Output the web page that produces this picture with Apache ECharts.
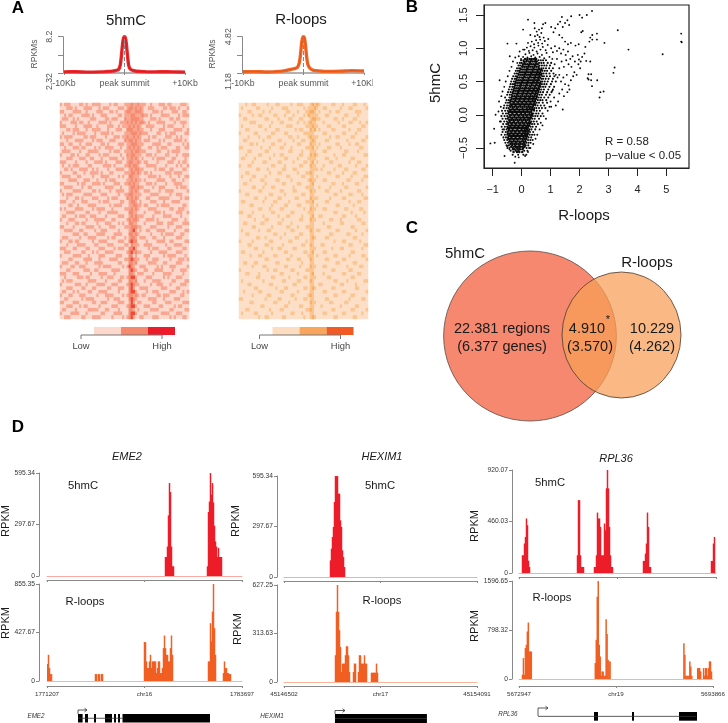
<!DOCTYPE html>
<html><head><meta charset="utf-8">
<style>html,body{margin:0;padding:0;background:#fff}#c{width:728px;height:723px}</style>
<script src="https://cdn.jsdelivr.net/npm/echarts@6/dist/echarts.min.js"></script>
</head><body><div id="c"></div>
<script>
// ---------- Panel A: average profiles
const profileX = [-10,-8,-6,-4,-3,-2,-1.5,-1,-.7,-.5,-.3,-.15,0,.15,.3,.5,.7,1,1.5,2,3,4,6,8,10];
const profileHmc = [2.5,2.52,2.46,2.5,2.55,2.62,2.72,2.88,3.6,5.2,7.2,8.0,8.2,8.0,7.1,5.1,3.5,2.9,2.7,2.6,2.55,2.5,2.52,2.5,2.46];
const profileRloop = [1.3,1.32,1.28,1.34,1.42,1.55,1.62,1.75,2.2,3.0,4.2,4.7,4.82,4.7,4.1,2.9,2.1,1.7,1.48,1.42,1.36,1.34,1.36,1.42,1.38];
const hmcYTicks = [2.32,5.26,8.2];
const rloopYTicks = [1.18,3.0,4.82];
const profileTickLabels = ['-10Kb','peak summit','+10Kb'];
// ---------- Panel A: heat maps (0 low .. 3 high)
const heatHmc = [
"101110000110100111100001011000111211211100100011101100001110",
"000111010001111000101110000111012212121001110000110111010001",
"110000111100100001110001101000122112221000011101000011100110",
"001011000011110100011100000110111221112110100001111000010111",
"011100101000001110000110111000211222211000111010000110110000",
"100001110110010000111101000011121212122101000111100001001110",
"111000010001111001000011100101112121210011110000101110000100",
"000110111000100111100010001110022211211000100011100001111001",
"010000101111000010011110100000111222121110000110010111000011",
"101111000001101110000100011101121121210001011000011100101000",
"000100011110000101110001110000212212110111000010100001111010",
"110011000100111000011010000111011222111000011110001100000101",
"001000111011000010100111100010012121210001100101110000110011",
"011110000100011111000001011100111212211100000110001011110000",
"100001101000110000101110000010021221110011101000011000100111",
"000111000111001100010001111001011212101000010111100011000010",
"111000010000100011110100001110012211210110000100001110010110",
"010010111000011000001111010000112122100011111000010000101001",
"001101000111100101000010001111001212211000001011100110000110",
"100000110001001111010001100000111221210110100000011101111000",
"011110001100000100011110000101002211100001111010000100010011",
"000011110001110001000101110000011212110100000111100011000100",
"110000001011000111101000011100112121100011101000010001111000",
"001111000010011000000111100010001221211000010011100000101110",
"100000111100000110100001001111001212100111000010011110000001",
"010111000001111000011100000100112211110000111100000100111000",
"000100011010000111000010111000021212100011000011111000001011",
"111000100011100000101110000011001221010000111000100011110000",
"000011001000011110000001011110001122110110000101111000000110",
"101000011110000101111000100000111212100001111000000110011100",
"000111100000110000100011111000002211000100001110100000111001",
"011000010111001110000100000111001212111000010000111100001000",
"100011100000100011111000110000012122100011110100000011100010",
"000100011011000001000111000101002211000100000111001110000111",
"110000100000111100100001110000111222110000111000001000111000",
"001111000110000010011100000100001231010011000111100001000011",
"000000111001100001111000011110002212100000100001011110001100",
"011100000100011110000010110000101221011100011000100000111000",
"100011011000000100111100000111002322000010000111100110000011",
"000100001111000011000011100000110211100111100000010001111000",
"111000110000110000111000010111002231000001011100001100000110",
"001110000011000101000111100000012312110000100011110000111000",
"100000111100010000111000001110002201000111000000101111000010",
"000011000001111000100001111000112321100010011100000100011101",
"011100011000100011110000000110002212000001111000110000111000",
"100001100111000000101111000001013210011100000101000111000001",
"000110000001110011000000111100002321000110001111000010001110",
"111000111000001000111100010000002210111000010000111100000100",
"001000001110110000010011100011012331000011100000101000111000",
"010111000000011110000100000110002212000100011110000011000011",
"100000011100100001111000111000012321100000100111000100001110",
"000111000011000110000011000111002310011110000001110000110000",
"011000101000011000111100000100002331000010011100000111000101",
"100011000111000001000111100001012212101100000110111000001100",
"001100000010111100000010011100002321000001111000100001110000",
"110000111000000110011100000111001310110000011000011100000111",
"000111000101100000100000111000012331000111000011000001011000",
"011000010000011111000110000100002210100000111100000110000011",
"100001111000100000011000011110002331000110000001111000111000",
"001110000011000111100000100001012310011000011100000101000110"];
const heatRloop = [
"000100110000010001100000100111000121210000011000100001100010",
"010000001100000100001110000000101112100110000001000110000001",
"000011000001001000000011000100011221010000100110000000111000",
"100000100110000011000100010000102111100011000000011000010000",
"001100000000110000100001100011000122110000001100100001100000",
"000001110000000100011000000100101211000100000010000110001001",
"010000000110001000000011100000011121100001100000110000000110",
"000110000000100001100000001011000212010000011000000100011000",
"100000011000000110000110000000111110000110000000110000100000",
"000010000100011000000001100100001211100000100110000011000001",
"001100000001000000110000010001100121000011000000001000000110",
"000001101000000110000100000110000211010000000110000100110000",
"110000000010001000011000100000011120100001100001000000001100",
"000011000000110000000001100001000111000110000000011000010000",
"000100000110000010011000000011000212100000001000110000000011",
"011000010000001000000110000100001111000011000100000011000000",
"000000100001100000110000010000110120100000110000000100011000",
"100011000000000110000100000011000211000100000011000000100001",
"000000001100010000001100011000000111101000001000011000000110",
"000110000000001000110000000100011210000001100000100001100000",
"010000110000100000000011000001100110100000000110000010000011",
"000001000011000001100000100000001211000110000000001100000100",
"001100000000100000001100000110000120000000011000100000110000",
"000000110001000110000000010000011110010000100000011000000001",
"100000000110000000011000011000000211000011000001000000011000",
"000110000000001100000100000001100110000000001100000110000100",
"000000011000100000110000001100000211100000100000110000000011",
"011000000001000011000001000000011120000011000000000100011000",
"000001100000000100000110000110000110100000000110000001000000",
"000000000110001000011000000000100211000110000000011000001100",
"110000100000000110000000110000001110000000001100000010000010",
"000011000001000000100011000001000120011000000000110000100000",
"000000010000110000001000000011000211000000110001000000011000",
"001100000011000000110000100000000110000100000001100000000110",
"000000110000000100000011000100011110000001100000000011000000",
"010000000100011000000000110000000210110000000110000000100001",
"000110000000000011000100000011000110000000110000001100000100",
"000000001100100000010000001100000121000011000000000001100000",
"100000100000001100000001100000010110000000001000110000001000",
"000011000000110000001000000001100210001100000000000110000011",
"000000011000000100110000011000000111000000010001100000000100",
"011000000001000000000110000000110120000110000000000011000000",
"000001000110000011000000100000001110100000001100000100000110",
"000000000000110000000011000110000210000011000000110000000001",
"001100011000000001100000000001000110000000000110000001100000",
"000000100001100000000110000010000211000110000000001000001100",
"100000000000010011000000110000011110000000011000000110000000",
"000110000100000000011000000100000120000100000000110000011000",
"000000001100000110000001000000110111000001100000000011000000",
"010000000001000000001100000110000210000000001100001000000011",
"000011000000001100000000011000000110011000000001100000100000",
"000000011000000001000110000000110121000000011000000000110000",
"001000000110000000011000000100000110000110000000110000000001",
"000000100000011000000000110000001210000000001100000011000000",
"110000000000100000110000001000110110000011000000000100000110",
"000001100000000011000001000000000211000000110000011000000000",
"000000000011000000000110000011000110001000000001000000110000",
"000110000000001000011000000000011210000000011000000011000001",
"010000011000000100000000110001000110000110000000110000000100",
"000000000100110000001100000000100121000000001100000001100000"];
const heatLevels = [0,1,2,3];
// ---------- Panel B: scatter, rows of the dense cloud: [5hmC, [R-loops ...]]
const scatterCoreRows = [
[-.56,[-.28,-.16,-.08,.02]],
[-.52,[-.3,-.24,-.14,-.06,.03]],
[-.48,[-.36,-.27,-.2,-.13,-.05,.02,.1]],
[-.44,[-.39,-.32,-.25,-.18,-.11,-.04,.03,.1]],
[-.4,[-.42,-.36,-.29,-.22,-.15,-.08,-.01,.06,.13]],
[-.36,[-.46,-.4,-.33,-.26,-.19,-.12,-.05,.02,.09,.16]],
[-.32,[-.44,-.37,-.3,-.23,-.16,-.09,-.02,.05,.12,.19]],
[-.28,[-.47,-.4,-.33,-.26,-.19,-.12,-.05,.02,.09,.15,.22]],
[-.24,[-.45,-.38,-.31,-.24,-.17,-.1,-.03,.04,.11,.17,.24]],
[-.2,[-.47,-.41,-.34,-.27,-.2,-.13,-.06,.01,.08,.15,.21]],
[-.16,[-.44,-.37,-.3,-.23,-.16,-.09,-.02,.05,.12,.19,.26]],
[-.12,[-.46,-.39,-.32,-.25,-.18,-.11,-.04,.03,.1,.17,.24,.3]],
[-.08,[-.43,-.36,-.29,-.22,-.15,-.08,-.01,.06,.13,.2,.27]],
[-.04,[-.45,-.38,-.31,-.24,-.17,-.1,-.03,.04,.11,.18,.25,.32]],
[0,[-.42,-.35,-.28,-.21,-.14,-.07,0,.07,.14,.21,.28,.35]],
[.04,[-.44,-.37,-.3,-.23,-.16,-.09,-.02,.05,.12,.19,.26,.33]],
[.08,[-.41,-.34,-.27,-.2,-.13,-.06,.01,.08,.15,.22,.29,.36,.42]],
[.12,[-.39,-.32,-.25,-.18,-.11,-.04,.03,.1,.17,.24,.31,.38]],
[.16,[-.37,-.3,-.23,-.16,-.09,-.02,.05,.12,.19,.26,.33,.4,.46]],
[.2,[-.38,-.31,-.24,-.17,-.1,-.03,.04,.11,.18,.25,.32,.39,.46]],
[.24,[-.34,-.27,-.2,-.13,-.06,.01,.08,.15,.22,.29,.36,.43,.5]],
[.28,[-.32,-.25,-.18,-.11,-.04,.03,.1,.17,.24,.31,.38,.45,.52]],
[.32,[-.3,-.23,-.16,-.09,-.02,.05,.12,.19,.26,.33,.4,.47,.54]],
[.36,[-.27,-.2,-.13,-.06,.01,.08,.15,.22,.29,.36,.43,.5,.57]],
[.4,[-.25,-.18,-.11,-.04,.03,.1,.17,.24,.31,.38,.45,.52,.59]],
[.44,[-.22,-.15,-.08,-.01,.06,.13,.2,.27,.34,.41,.48,.55,.62]],
[.48,[-.2,-.13,-.06,.01,.08,.15,.22,.29,.36,.43,.5,.57,.64]],
[.52,[-.17,-.1,-.03,.04,.11,.18,.25,.32,.39,.46,.53,.6]],
[.56,[-.14,-.07,0,.07,.14,.21,.28,.35,.42,.49,.56,.63]],
[.6,[-.1,-.03,.04,.11,.18,.25,.32,.39,.46,.53,.6,.67]],
[.64,[-.06,.01,.08,.15,.22,.29,.36,.43,.5,.57,.64]],
[.68,[-.03,.04,.11,.18,.25,.32,.39,.46,.53,.6,.68]],
[.72,[.02,.09,.16,.23,.3,.37,.44,.51,.58]],
[.76,[.05,.13,.2,.27,.34,.41,.48,.55]],
[.8,[.08,.16,.24,.31,.38,.45,.52]],
[.84,[.12,.2,.28,.35,.43,.5]]];
const scatterMidRows = [
[-.6,[-.31,-.12,.06,.16]],
[-.54,[-.38,-.2,-.11,.09,.2]],
[-.5,[-.49,-.42,-.31,-.17,-.09,.06,.17,.26]],
[-.46,[-.52,-.44,-.33,-.22,-.08,.07,.14,.23]],
[-.42,[-.56,-.47,-.34,-.2,-.06,.08,.17,.24,.31]],
[-.38,[-.6,-.5,-.42,-.27,-.14,.04,.13,.22,.3,.38]],
[-.34,[-.63,-.54,-.47,-.35,-.21,-.07,.07,.16,.24,.33]],
[-.3,[-.58,-.5,-.42,-.28,-.14,.01,.12,.19,.28,.36,.44]],
[-.26,[-.66,-.55,-.49,-.36,-.22,-.08,.06,.13,.21,.29,.4]],
[-.22,[-.61,-.52,-.44,-.31,-.15,0,.11,.19,.27,.34,.47]],
[-.18,[-.69,-.58,-.5,-.39,-.24,-.11,.04,.16,.23,.31,.38,.5]],
[-.14,[-.64,-.53,-.47,-.34,-.2,-.06,.08,.21,.28,.36,.44,.56]],
[-.1,[-.72,-.6,-.51,-.41,-.27,-.12,.02,.15,.27,.34,.42,.52]],
[-.06,[-.66,-.55,-.49,-.33,-.18,-.04,.09,.23,.3,.37,.45,.6]],
[-.02,[-.7,-.59,-.5,-.4,-.25,-.1,.05,.18,.32,.39,.47,.55,.66]],
[.02,[-.65,-.54,-.47,-.32,-.17,-.02,.12,.27,.36,.41,.5,.58,.72]],
[.06,[-.68,-.57,-.48,-.39,-.24,-.08,.06,.2,.34,.43,.52,.63]],
[.1,[-.62,-.52,-.45,-.3,-.16,.03,.18,.28,.36,.44,.51,.6,.7,.82]],
[.14,[-.6,-.5,-.43,-.35,-.21,-.05,.1,.24,.4,.47,.55,.66,.78]],
[.18,[-.55,-.47,-.41,-.27,-.12,.02,.16,.3,.44,.52,.6,.73,.88]],
[.22,[-.52,-.44,-.38,-.22,-.07,.09,.24,.38,.47,.56,.64,.72,.85]],
[.26,[-.57,-.42,-.36,-.19,-.04,.12,.27,.41,.52,.59,.67,.78,.92]],
[.3,[-.5,-.41,-.35,-.15,.02,.17,.31,.46,.55,.62,.7,.84,.97]],
[.34,[-.47,-.38,-.31,-.12,.06,.21,.37,.49,.58,.65,.74,.88,1.03]],
[.38,[-.44,-.35,-.29,-.08,.1,.27,.42,.55,.62,.68,.77,.92,1.08]],
[.42,[-.41,-.32,-.26,-.05,.14,.3,.46,.6,.66,.74,.82,.96,1.12]],
[.46,[-.38,-.3,-.24,-.02,.18,.35,.51,.63,.7,.78,.86,1.01]],
[.5,[-.36,-.27,-.22,.02,.21,.41,.54,.67,.72,.8,.9,1.05,1.18]],
[.54,[-.33,-.24,-.19,.05,.24,.44,.58,.68,.74,.83,.93,1.08]],
[.58,[-.29,-.21,-.16,.09,.29,.47,.61,.71,.77,.87,.98,1.13]],
[.62,[-.24,-.17,-.12,.12,.33,.52,.62,.7,.76,.85,.96,1.1]],
[.66,[-.2,-.13,-.08,.17,.38,.55,.66,.72,.8,.88,1.02]],
[.7,[-.16,-.09,-.04,.2,.41,.6,.68,.75,.84,.95,1.08]],
[.74,[-.11,-.05,.03,.25,.46,.62,.7,.78,.86,.98]],
[.78,[-.06,0,.1,.29,.5,.6,.68,.76,.9,1.02]],
[.82,[-.02,.06,.18,.33,.48,.58,.66,.74,.84]]];
const scatterSparse = [
[.05,.87],[.13,.91],[.2,.86],[.27,.93],[.33,.88],[.41,.9],[.47,.86],[.55,.92],[.62,.87],[.7,.9],[.78,.85],[.86,.93],[.96,.87],[.1,.98],[.18,1.01],[.25,.96],[.31,1.03],[.38,.97],[.44,1.01],[.52,.95],[.58,1.04],[.65,.98],[.73,1.02],[.83,.97],[.22,1.08],[.35,1.1],[.43,1.06],[.5,1.12],[.57,1.08],[.64,1.13],[.71,1.07],[.8,1.11],[.9,1.05],[.46,1.18],[.55,1.2],[.62,1.17],[.68,1.23],[.76,1.16],[.6,1.28],[.7,1.3],[.52,1.25],[.3,1.2],
[.22,1.43],[.05,1.28],[.44,1.38],[.45,1.3],[.82,1.38],[1.02,1.32],[1.39,1.47],[1.71,1.48],[2,1.5],[2.25,1.5],[2.43,1.56],[2.09,1.46],[3.32,1.27],[2.11,1.26],[2.06,1.24],[2.6,1.22],[2.44,1.2],[2.37,1.16],[2.44,1.13],[2.6,1.13],[2.34,1.1],[2.86,1.08],[5.51,1.22],[5.51,1.1],[5.53,1.09],[4.87,.91],[3.69,.98],[3.21,.71],[3.17,.63],[2.83,.35],[2.72,.34],[2.69,.26],[2.61,.52],[2.43,.43],[2.4,.52],[2.31,.53],[2.28,.55],[2.4,.61],[2.31,.61],[2.37,.8],[2.23,.81],[2.17,.92],[2.09,.87],[1.94,.9],[1.98,.83],[2.04,.8],
[-1.08,-.43],[-.93,-.42],[-.95,-.21],[-.9,0],[-.49,1.07],[-.18,1.07],[-.41,.88],[-.07,.95],[-.76,.52],[-.24,-.72],[-.59,-.62],[-.42,-.52],[-.5,-.47],[-.7,-.3],[-.66,-.22],[-.75,-.1],[-.8,.05],[-.72,.12],[-.78,.2],[-.7,.28],[-.66,.35],[-.6,.42],[-.55,.5],[-.48,.58],[-.42,.66],[-.35,.72],[-.3,.8],[-.22,.86],[-.15,.78],[-.1,.88],[-.02,.84],[.05,.98],
[.92,1.14],[.74,1.36],[1.1,1.24],[1.16,1.3],[1.25,1.36],[1.33,1.4],[1.42,1.32],[1.5,1.38],[1.58,1.42],[1.64,1.35],[1.3,1.2],[1.4,1.16],[1.5,1.1],[1.6,1.06],[1.7,1.08],[1.86,1.04],[1.97,1.06],[2.2,1.02],
[1.02,1],[1.08,.94],[1.15,1.03],[1.22,.96],[1.3,1],[1.36,.92],[1.44,.98],[1.52,.9],[1.6,.95],[1.68,.84],[1.76,.88],[1.84,.8],[1.72,.72],[1.62,.76],[1.54,.82],[1.46,.72],[1.38,.8],[1.3,.7],[1.22,.84],[1.14,.76],[1.06,.84],[1.18,.6],[1.24,.56],[1.3,.6],[1.36,.5],[1.44,.56],[1.5,.46],[1.56,.6],[1.62,.44],[1.7,.52],[1.78,.58],[1.9,.6],[1.82,.64],[2.02,.7],[1.96,.76],[1.58,.34],[1.65,.38],[1.46,.28],[1.4,.38],[1.3,.32],[1.42,.08],[1.26,.2],[1.18,.14],[1.12,.26],[1.06,.36],[1,.2],[.96,.12],[1.02,.12],[.9,.06],[.84,-.06],[.76,-.02],[.72,-.16],[.62,-.22],[.66,-.12],[.54,-.3],[.48,-.36],[.4,-.44],[.3,-.5],[.22,-.56],[.12,-.62],[-.1,-.64],[-.22,-.63]];
// ---------- Panel C: Venn regions
const vennLabels = ['22.381 regions','(6.377 genes)','4.910','(3.570)','10.229','(4.262)'];
const vennCentres = [[90,91],[181.5,92]];
// ---------- Panel D: coverage peaks, [first bin, [RPKM per bin ...]]
const eme2Hmc = [[118,[110,110,170,350,537,485,170,56,56]],[160,[56,370,430,595,470,537,425,290,200,170,110,163,110,110,110]]];
const eme2Rloop = [[0,[150,231,114,61,61]],[48,[61,61]],[51,[61,61]],[54,[61,61]],[97,[343,343,173,114,114,173,231,115,173,173,173,173,70,114,173,173,70,70,114,290,401,290,231,231,173,173,290,401,231]],[161,[173,173,510,350,612,855,466,231]],[176,[70,173,114,114,70,70,61,61]]];
const hexim1Hmc = [[46,[98,167,236,295,442,595,595,595,491,491,334,295,157,118,59]]];
const hexim1Rloop = [[51,[173,454,627,454,335,227,65,119,119,119,173,231,231,173,65]],[69,[65,119,119]],[74,[65,173,173,119,119,119,173,119,119]],[87,[60,60,60,60,60,119,60]]];
const rpl36Hmc = [[3,[158,158,263,322,487,427,110,54]],[58,[158,651,651,158,54,54,54]],[75,[54,54,158,540,487,487,412,158,158,158,442,382,756,920,756,412,158,54,54]],[124,[108,108,173,263,540,412,54,54]],[192,[108,108,263,322]]];
const rpl36Rloop = [[3,[70,341,70,503,557,773,920,449,449,449]],[77,[260,638,1341,1596,557,368,54,124,124,54,54,973,735,314,287,287]],[167,[584,395,54,54,54,54,287,205,54]],[181,[178,178,178,124]],[187,[178,54,178,178,54,178,287,287,124]]];
const eme2Ticks = [1771207,1777452,1783697];
const hexim1Ticks = [45146502,45150296,45154091];
const rpl36Ticks = [5672947,5683406,5693866];
// Gene models: exons [start, end], transcript [start, end]
const eme2Exons = [[1773193,1773487],[1773641,1773833],[1774217,1774345],[1774922,1775370],[1775498,1775626],[1775754,1775882],[1776043,1781647]];
const hexim1Exons = [[45148506,45152122]];
const rpl36Exons = [[5680912,5681337],[5684948,5685160],[5689939,5691851]];
const eme2Transcript = [1773193,1776043];
const hexim1Transcript = [45148506,45152122];
const rpl36Transcript = [5674965,5691744];

// ---------- build
const F = '"Liberation Sans", Arial, sans-serif';
const grid=[],xAxis=[],yAxis=[],series=[],graphic=[];
const off={show:false};
function T(x,y,text,size,o){o=o||{};graphic.push({type:'text',x,y,rotation:o.rot||0,z:50,style:{text,fill:o.color||'#1a1a1a',font:(o.italic?'italic ':'')+(o.bold?'bold ':'')+size+'px '+F,textAlign:o.align||'center',textVerticalAlign:'middle'}});}
function addGrid(l,t,w,h,extra){grid.push(Object.assign({left:l,top:t,width:w,height:h,containLabel:false},extra||{}));return grid.length-1;}

function profile(l,yTicks,vals,color,dark){
  const g=addGrid(l,36.7,121,36.3);
  xAxis.push({gridIndex:g,type:'value',min:-10,max:10,splitLine:off,
    axisLine:{onZero:false,lineStyle:{color:'#999',width:1.5}},
    axisTick:{customValues:[-10,0,10],length:2,lineStyle:{color:'#888'}},
    axisLabel:{customValues:[-10,0,10],margin:6,fontSize:8.8,fontFamily:F,color:'#555',formatter:(v)=>profileTickLabels[[-10,0,10].indexOf(v)]}});
  yAxis.push({gridIndex:g,type:'value',min:yTicks[0],max:yTicks[2],offset:1,splitLine:off,
    axisLine:{show:true,onZero:false,lineStyle:{color:'#888'}},
    axisTick:{show:true,customValues:yTicks,length:5,lineStyle:{color:'#888'}},
    axisLabel:{customValues:[yTicks[0],yTicks[2]],rotate:90,margin:9,fontSize:8.8,fontFamily:F,color:'#555',alignMinLabel:'right',formatter:v=>String(v)}});
  const xi=xAxis.length-1,yi=yAxis.length-1;
  const d=profileX.map((x,i)=>[x,vals[i]]);
  series.push({type:'line',xAxisIndex:xi,yAxisIndex:yi,data:d,smooth:.2,symbol:'none',lineStyle:{color,width:3.4},z:3,
    markLine:{silent:true,symbol:'none',label:off,lineStyle:{color:'#888',type:'dashed',width:1},data:[{xAxis:0}],z:4}});
  series.push({type:'line',xAxisIndex:xi,yAxisIndex:yi,data:d,smooth:.2,symbol:'none',lineStyle:{color:dark,width:1},z:4});
}
profile(64,hmcYTicks,profileHmc,'#EE2A2E','#C81E24');
profile(243,rloopYTicks,profileRloop,'#F26A2A','#E2541A');

const visualMap=[];
function heat(l,rows,colors){
  const g=addGrid(l,103,129,216);
  const nC=rows[0].length;
  xAxis.push({gridIndex:g,type:'category',data:Array.from({length:nC},(_,i)=>i),show:false});
  yAxis.push({gridIndex:g,type:'category',data:rows.map((_,i)=>i),show:false,inverse:true});
  const d=[];rows.forEach((r,y)=>{for(let x=0;x<r.length;x++)d.push([x,y,+r[x]]);});
  series.push({type:'heatmap',xAxisIndex:xAxis.length-1,yAxisIndex:yAxis.length-1,data:d,progressive:0,silent:true});
  visualMap.push({show:false,type:'piecewise',seriesIndex:series.length-1,dimension:2,
    pieces:heatLevels.map(v=>({value:v,color:colors[v]}))});
}
heat(60,heatHmc,['#FCD8CC','#F9A690','#F58B70','#EF4A38']);
heat(239,heatRloop,['#FCDFC6','#FAC591','#F9AE66','#F4903C']);

function legendScale(l,cols){
  [0,1,2].forEach(i=>graphic.push({type:'rect',z:50,shape:{x:l+13+i*27,y:327,width:27,height:8},style:{fill:cols[i]}}));
  graphic.push({type:'polyline',z:51,shape:{points:[[l,339],[l,335],[l+81,335],[l+81,339]]},style:{stroke:'#777',fill:null,lineWidth:1}});
  T(l,346,'Low',9.4,{color:'#444'});T(l+81,346,'High',9.4,{color:'#444'});
}
legendScale(81,['#FDD9CD','#F68A6E','#ED1C2A']);
legendScale(259.5,['#FDDDC0','#F9A65C','#F15A22']);
T(126,21,'5hmC',15);T(301,20,'R-loops',15);
T(35,54,'RPKMs',8.5,{rot:Math.PI/2,color:'#555'});T(213,54,'RPKMs',8.5,{rot:Math.PI/2,color:'#555'});

// Panel B
const gB=addGrid(484,5,205,163,{show:true,borderColor:'#222',borderWidth:1.2,backgroundColor:'transparent'});
const xB=[-1,0,1,2,3,4,5],yB=[-.5,0,.5,1,1.5];
xAxis.push({gridIndex:gB,type:'value',min:-1.3,max:5.78,splitLine:off,
  axisLine:{onZero:false,lineStyle:{color:'#222',width:1}},
  axisTick:{customValues:xB,length:8,lineStyle:{color:'#222'}},
  axisLabel:{customValues:xB,margin:16,fontSize:11,fontFamily:F,color:'#222',formatter:v=>String(v).replace('-','\u2212')}});
yAxis.push({gridIndex:gB,type:'value',min:-.8,max:1.65,splitLine:off,
  axisLine:{onZero:false,lineStyle:{color:'#222',width:1}},
  axisTick:{customValues:yB,length:8,lineStyle:{color:'#222'}},
  axisLabel:{customValues:yB,rotate:90,margin:15,fontSize:11,fontFamily:F,color:'#222',formatter:v=>v.toFixed(1).replace('-','\u2212')}});
const expand=rows=>{const o=[];rows.forEach(([y,xs])=>xs.forEach(x=>o.push([x,y])));return o;};
const dot=(data,size)=>series.push({type:'scatter',xAxisIndex:xAxis.length-1,yAxisIndex:yAxis.length-1,data,symbolSize:size,itemStyle:{color:'#0a0a0a',opacity:1},silent:true,clip:true});
dot(expand(scatterCoreRows),2.5);dot(expand(scatterMidRows),2.1);dot(scatterSparse,1.9);
T(584,216,'R-loops',15);T(436,83,'5hmC',15,{rot:Math.PI/2});
T(605,142,'R = 0.58',11.5,{align:'left',color:'#222'});T(605,156,'p\u2212value < 0.05',11.5,{align:'left',color:'#222'});

// Panel C
const gC=addGrid(440,243,250,184);
xAxis.push({gridIndex:gC,type:'value',min:0,max:250,show:false});
yAxis.push({gridIndex:gC,type:'value',min:0,max:184,show:false});
const xc=xAxis.length-1,yc=yAxis.length-1;
series.push({type:'scatter',xAxisIndex:xc,yAxisIndex:yc,data:[vennCentres[0]],symbol:'circle',symbolSize:[172.7,170],silent:true,z:2,
  itemStyle:{color:'#F5886F',opacity:1,borderColor:'#5a4a44',borderWidth:.8}});
series.push({type:'scatter',xAxisIndex:xc,yAxisIndex:yc,data:[vennCentres[1]],symbol:'circle',symbolSize:[119,126],silent:true,z:3,
  itemStyle:{color:'rgba(248,159,86,0.73)',opacity:1,borderColor:'#4a3a30',borderWidth:.8}});
T(465,254,'5hmC',15);T(647,263,'R-loops',15);
T(502,329,vennLabels[0],14.5);T(502,347,vennLabels[1],14.5);
T(587,329,vennLabels[2],14.5);T(590,347,vennLabels[3],14.5);
T(608,320,'*',11);
T(652,329,vennLabels[4],14.5);T(652,347,vennLabels[5],14.5);

// Panel D
function fill(n,peaks){const a=new Array(n).fill(0);peaks.forEach(([s,v])=>v.forEach((h,i)=>{a[s+i]=h;}));return a;}
function track(l,w,top,base,yt,peaks,color,ticks,labels,offB,offL){
  const g=addGrid(l,top,w,base-top);
  const data=fill(w,peaks);
  xAxis.push({gridIndex:g,type:'category',data:data.map((_,i)=>i),boundaryGap:true,
    axisLine:{onZero:false,lineStyle:{color:color==='#ED1C2A'?'#F9A9A6':'#F9B49A',width:1}},axisTick:off,axisLabel:off,splitLine:off});
  const xi=xAxis.length-1;
  xAxis.push({gridIndex:g,type:'value',min:ticks[0],max:ticks[2],offset:offB,position:'bottom',splitLine:off,
    axisLine:{show:true,onZero:false,lineStyle:{color:'#888',width:1}},
    axisTick:{show:true,customValues:ticks,length:2,lineStyle:{color:'#888'}},
    axisLabel:labels?{show:true,customValues:ticks,margin:5,fontSize:6.2,fontFamily:F,color:'#333',formatter:v=>labels[ticks.indexOf(v)]}:{show:false}});
  yAxis.push({gridIndex:g,type:'value',min:0,max:yt[2],offset:offL,splitLine:off,
    axisLine:{show:true,onZero:false,lineStyle:{color:'#888'}},
    axisTick:{show:true,customValues:yt,length:3,lineStyle:{color:'#888'}},
    axisLabel:{show:true,customValues:yt,margin:4,fontSize:6.7,fontFamily:F,color:'#333',formatter:v=>String(v)}});
  series.push({type:'bar',xAxisIndex:xi,yAxisIndex:yAxis.length-1,data,barWidth:1.5,barGap:0,itemStyle:{color},silent:true});
}
const RED='#ED1C2A',ORG='#F15F22';
track(47,195,473,576,[0,297.67,595.34],eme2Hmc,RED,eme2Ticks,null,4,8);
track(47,195,584,681,[0,427.67,855.35],eme2Rloop,ORG,eme2Ticks,['1771207','chr16','1783697'],5,8);
track(284,193,476,577,[0,297.67,595.34],hexim1Hmc,RED,hexim1Ticks,null,4,7);
track(284,193,585,682,[0,313.63,627.25],hexim1Rloop,ORG,hexim1Ticks,['45146502','chr17','45154091'],4,7);
track(519,197,470,573,[0,460.03,920.07],rpl36Hmc,RED,rpl36Ticks,null,4,7);
track(519,197,581,679,[0,798.32,1596.65],rpl36Rloop,ORG,rpl36Ticks,['5672947','chr19','5693866'],7,7);

function gene(l,w,ticks,exons,transcript,top,h){
  const g=addGrid(l,top,w,h);
  xAxis.push({gridIndex:g,type:'value',min:ticks[0],max:ticks[2],show:false});
  yAxis.push({gridIndex:g,type:'value',min:0,max:1,show:false});
  const xi=xAxis.length-1,yi=yAxis.length-1;
  series.push({type:'line',xAxisIndex:xi,yAxisIndex:yi,data:transcript.map(x=>[x,.5]),symbol:'none',lineStyle:{color:'#333',width:.8},silent:true});
  series.push({type:'custom',xAxisIndex:xi,yAxisIndex:yi,data:exons,silent:true,clip:false,
    renderItem:(p,api)=>{const a=api.coord([api.value(0),1]),b=api.coord([api.value(1),0]);
      return {type:'rect',shape:{x:a[0],y:a[1],width:b[0]-a[0],height:b[1]-a[1]},style:{fill:'#000'}};}});
}
gene(47,195,eme2Ticks,eme2Exons,eme2Transcript,714,8.5);
gene(284,193,hexim1Ticks,hexim1Exons,hexim1Transcript,714,9);
gene(519,197,rpl36Ticks,rpl36Exons,rpl36Transcript,712,8.7);
function arrow(x,yb,yt,len){graphic.push({type:'polyline',z:51,shape:{points:[[x,yb],[x,yt],[x+len,yt]]},style:{stroke:'#333',fill:null,lineWidth:.8}});
  graphic.push({type:'polyline',z:51,shape:{points:[[x+len-2.5,yt-1.8],[x+len,yt],[x+len-2.5,yt+1.8]]},style:{stroke:'#333',fill:null,lineWidth:.8}});}
arrow(78,714,710,9);arrow(335,714,710.5,10);arrow(538,716,708,10);
T(127,457,'EME2',11,{italic:true});T(382,457,'HEXIM1',11,{italic:true});T(616,459,'RPL36',11,{italic:true});
T(36,716,'EME2',6.3,{italic:true,color:'#333'});T(272,716,'HEXIM1',6.3,{italic:true,color:'#333'});T(508,714,'RPL36',6.3,{italic:true,color:'#333'});
[[6,521],[6,623],[236,521],[238,629],[475,526],[475,626]].forEach(p=>T(p[0],p[1],'RPKM',11,{rot:Math.PI/2}));
T(83,486,'5hmC',11.3);T(85,602,'R-loops',11.3);T(380,486,'5hmC',11.3);T(382,601,'R-loops',11.3);T(550,483,'5hmC',11.3);T(552,598,'R-loops',11.3);
T(18,8,'A',17,{bold:true,color:'#000'});T(412,7,'B',17,{bold:true,color:'#000'});T(412,228,'C',17,{bold:true,color:'#000'});T(18,427,'D',17,{bold:true,color:'#000'});
// reference is cropped at the right of the second profile's label
graphic.push({type:'rect',z:60,shape:{x:373,y:78,width:16,height:14},style:{fill:'#fff'}});

const chart=echarts.init(document.getElementById('c'),null,{renderer:'canvas'});
chart.setOption({animation:false,backgroundColor:'#fff',grid,xAxis,yAxis,series,visualMap,graphic:{elements:graphic}});
</script></body></html>
